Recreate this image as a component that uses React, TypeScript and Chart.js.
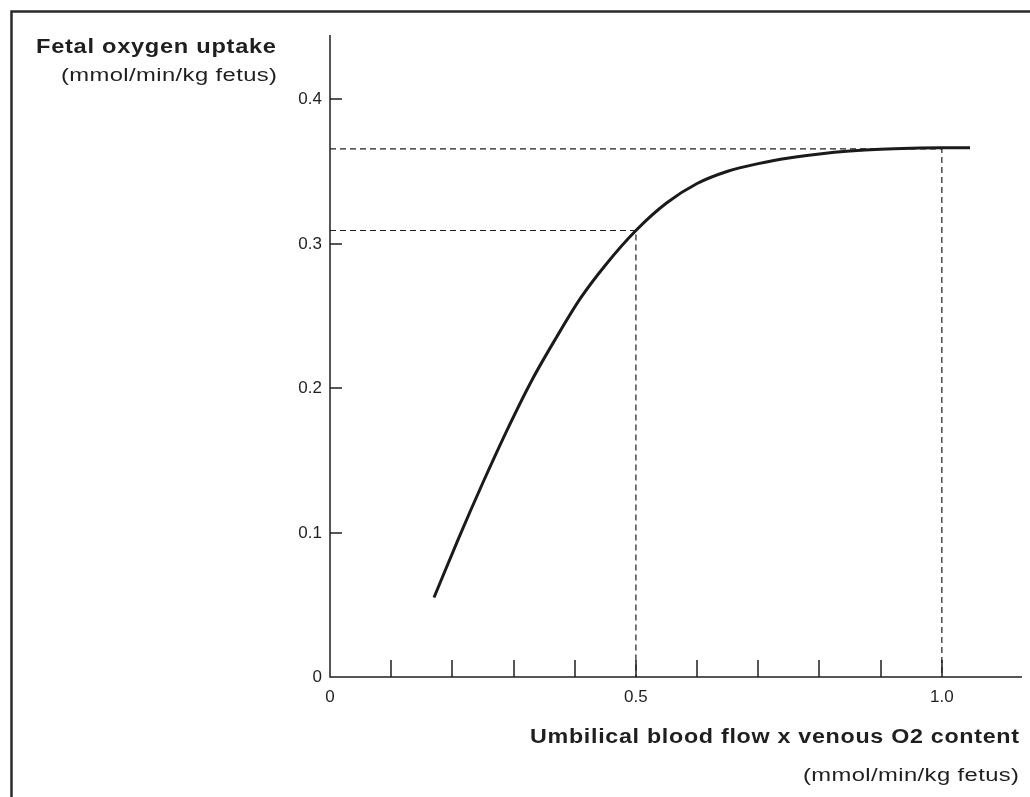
import React, { useEffect, useRef } from "react";
import { Chart, registerables } from "chart.js";

Chart.register(...registerables);

// Umbilical blood flow x venous O2 content (mmol/min/kg fetus)
const deliveryValues = [
  0.17, 0.21, 0.25, 0.29, 0.33, 0.37, 0.41, 0.45, 0.5, 0.55, 0.6, 0.65, 0.7,
  0.75, 0.8, 0.85, 0.9, 0.95, 1.0, 1.046,
];
// Fetal oxygen uptake (mmol/min/kg fetus)
const uptakeValues = [
  0.055, 0.0958, 0.1346, 0.1714, 0.2054, 0.235, 0.2625, 0.285, 0.309, 0.328,
  0.3415, 0.35, 0.3553, 0.3592, 0.362, 0.364, 0.3653, 0.366, 0.3663, 0.3663,
];

// Dashed reference guides: value at 0.5 and at 1.0
const guideX = [0.5, 1.0];
const guideY = [0.309, 0.3655];

const xMin = 0;
const xMax = 1.131;
const yMin = 0;
const yMax = 0.4443;

const xTickValues = [0.1, 0.2, 0.3, 0.4, 0.5, 0.6, 0.7, 0.8, 0.9, 1.0];
const xLabelValues = [0, 0.5, 1.0];
const xLabelTexts = ["0", "0.5", "1.0"];
const yTickValues = [0.1, 0.2, 0.3, 0.4];
const yLabelValues = [0, 0.1, 0.2, 0.3, 0.4];
const yLabelTexts = ["0", "0.1", "0.2", "0.3", "0.4"];

const yTitle = "Fetal oxygen uptake";
const yUnit = "(mmol/min/kg fetus)";
const xTitle = "Umbilical blood flow x venous O2 content";
const xUnit = "(mmol/min/kg fetus)";

const INK = "#1f1f1f";
const FONT = '"Liberation Sans", Arial, Helvetica, sans-serif';

// Draws text starting at (x, y) stretched horizontally to the given width.
function drawWide(
  ctx: CanvasRenderingContext2D,
  text: string,
  font: string,
  x: number,
  y: number,
  width: number,
  spacing: number
) {
  ctx.save();
  ctx.font = font;
  (ctx as any).letterSpacing = `${spacing}px`;
  ctx.textAlign = "left";
  ctx.textBaseline = "alphabetic";
  const w = ctx.measureText(text).width - spacing;
  ctx.translate(x, y);
  ctx.scale(width / w, 1);
  ctx.fillText(text, 0, 0);
  ctx.restore();
}

const axesPlugin = {
  id: "figureAxes",
  beforeDatasetsDraw(chart: any) {
    const ctx: CanvasRenderingContext2D = chart.ctx;
    const xs = chart.scales.x;
    const ys = chart.scales.y;
    const { right, top } = chart.chartArea;
    ctx.save();

    // outer frame (top and left edges)
    ctx.strokeStyle = "#2a2a2a";
    ctx.lineWidth = 2.5;
    ctx.beginPath();
    ctx.moveTo(11.5, chart.height);
    ctx.lineTo(11.5, 11.5);
    ctx.lineTo(chart.width, 11.5);
    ctx.stroke();

    // axis lines
    ctx.strokeStyle = INK;
    ctx.lineWidth = 1.5;
    const x0 = Math.round(xs.getPixelForValue(0));
    const y0 = Math.round(ys.getPixelForValue(0));
    ctx.beginPath();
    ctx.moveTo(x0, top);
    ctx.lineTo(x0, y0);
    ctx.lineTo(right, y0);
    ctx.stroke();

    // ticks pointing inward
    ctx.beginPath();
    xTickValues.forEach((v) => {
      const px = Math.round(xs.getPixelForValue(v));
      ctx.moveTo(px, y0);
      ctx.lineTo(px, y0 - 17);
    });
    yTickValues.forEach((v) => {
      const py = Math.round(ys.getPixelForValue(v));
      ctx.moveTo(x0, py);
      ctx.lineTo(x0 + 12, py);
    });
    ctx.stroke();

    // tick labels
    ctx.fillStyle = INK;
    ctx.font = `17px ${FONT}`;
    ctx.textAlign = "right";
    ctx.textBaseline = "middle";
    yLabelValues.forEach((v, i) => {
      ctx.fillText(yLabelTexts[i], x0 - 8, ys.getPixelForValue(v) + 0.5);
    });
    ctx.textAlign = "center";
    xLabelValues.forEach((v, i) => {
      ctx.fillText(xLabelTexts[i], xs.getPixelForValue(v), y0 + 20);
    });

    // axis titles
    drawWide(ctx, yTitle, `bold 20px ${FONT}`, 36, 53, 240, 0.6);
    drawWide(ctx, yUnit, `18px ${FONT}`, 61, 81, 216, 0.3);
    drawWide(ctx, xTitle, `bold 20px ${FONT}`, 1019 - 489, 743, 489, 0.6);
    drawWide(ctx, xUnit, `18px ${FONT}`, 1019 - 216, 781, 216, 0.3);

    ctx.restore();
  },
};

export default function App() {
  const canvasRef = useRef<HTMLCanvasElement | null>(null);

  useEffect(() => {
    const canvas = canvasRef.current;
    if (!canvas) return;

    const curve = deliveryValues.map((x, i) => ({ x, y: uptakeValues[i] }));
    const guides = guideX.map((gx, i) => [
      { x: 0, y: guideY[i] },
      { x: gx, y: guideY[i] },
      { x: gx, y: 0 },
    ]);

    const chart = new Chart(canvas, {
      type: "line",
      data: {
        datasets: [
          ...guides.map((pts) => ({
            data: pts,
            borderColor: INK,
            borderWidth: 1.2,
            borderDash: [6, 4],
            pointRadius: 0,
            tension: 0,
            fill: false,
          })),
          {
            data: curve,
            borderColor: "#1a1a1a",
            borderWidth: 3,
            pointRadius: 0,
            cubicInterpolationMode: "monotone" as const,
            fill: false,
            borderCapStyle: "butt" as const,
          },
        ],
      },
      options: {
        responsive: false,
        animation: false,
        devicePixelRatio: 1,
        layout: { padding: { left: 330, right: 8, top: 35, bottom: 120 } },
        plugins: {
          legend: { display: false },
          tooltip: { enabled: false },
          title: { display: false },
        },
        scales: {
          x: { type: "linear", min: xMin, max: xMax, display: false },
          y: { type: "linear", min: yMin, max: yMax, display: false },
        },
      },
      plugins: [axesPlugin],
    });

    return () => chart.destroy();
  }, []);

  return (
    <div style={{ position: "absolute", left: 0, top: 0, width: 1030, height: 797, background: "#fff" }}>
      <canvas ref={canvasRef} width={1030} height={797} style={{ display: "block" }} />
    </div>
  );
}
